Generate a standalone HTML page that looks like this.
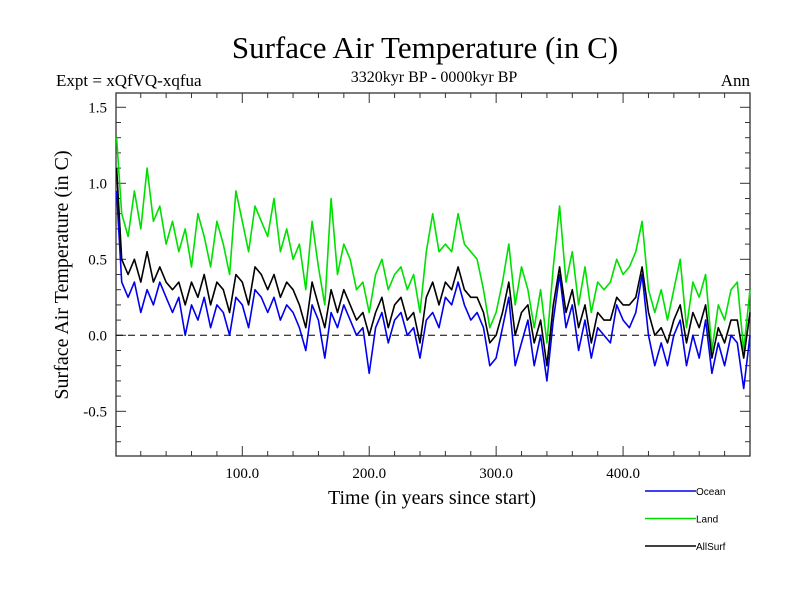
<!DOCTYPE html>
<html><head><meta charset="utf-8"><style>body{margin:0;background:#fff}svg{display:block}</style></head>
<body>
<svg id="chart" width="800" height="600" xmlns="http://www.w3.org/2000/svg" font-family="Liberation Serif, serif">
<text x="425" y="58" text-anchor="middle" font-size="31">Surface Air Temperature (in C)</text>
<text x="56" y="86" font-size="17">Expt = xQfVQ-xqfua</text>
<text x="434" y="82" text-anchor="middle" font-size="16">3320kyr BP - 0000kyr BP</text>
<text x="750" y="86" text-anchor="end" font-size="17">Ann</text>
<text x="432" y="504" text-anchor="middle" font-size="20">Time (in years since start)</text>
<text transform="translate(68,275) rotate(-90)" text-anchor="middle" font-size="20">Surface Air Temperature (in C)</text>
<g id="axes"></g>
<g id="series"></g>
<g id="legend" font-family="Liberation Sans, sans-serif" font-size="10"></g>
</svg>
<script>
const years0 = 0, yearStep = 5;
const xTicks = [100, 200, 300, 400];
const xTickLabels = ["100.0", "200.0", "300.0", "400.0"];
const yTicks = [-0.5, 0.0, 0.5, 1.0, 1.5];
const yTickLabels = ["-0.5", "0.0", "0.5", "1.0", "1.5"];
const seriesNames = ["Land", "Ocean", "AllSurf"];
const oceanValues = [0.95,0.35,0.25,0.35,0.15,0.3,0.2,0.35,0.25,0.15,0.25,0.0,0.2,0.1,0.25,0.05,0.2,0.15,0.0,0.25,0.2,0.05,0.3,0.25,0.15,0.25,0.1,0.2,0.15,0.05,-0.1,0.2,0.1,-0.15,0.15,0.05,0.2,0.1,0.0,0.05,-0.25,0.05,0.15,-0.05,0.1,0.15,0.0,0.05,-0.15,0.1,0.15,0.05,0.25,0.2,0.35,0.2,0.1,0.15,0.05,-0.2,-0.15,0.05,0.25,-0.2,-0.05,0.1,-0.2,0.0,-0.3,0.1,0.4,0.05,0.2,-0.1,0.1,-0.15,0.05,0.0,-0.05,0.2,0.1,0.05,0.15,0.4,0.0,-0.2,-0.05,-0.2,0.0,0.1,-0.2,0.0,-0.15,0.1,-0.25,-0.05,-0.2,0.0,-0.05,-0.35,0.0];
const landValues = [1.3,0.8,0.65,0.95,0.7,1.1,0.75,0.85,0.6,0.75,0.55,0.7,0.45,0.8,0.65,0.45,0.75,0.6,0.4,0.95,0.75,0.55,0.85,0.75,0.65,0.9,0.55,0.7,0.5,0.6,0.3,0.75,0.45,0.2,0.9,0.4,0.6,0.5,0.3,0.35,0.15,0.4,0.5,0.3,0.4,0.45,0.3,0.4,0.15,0.55,0.8,0.55,0.6,0.55,0.8,0.6,0.55,0.5,0.3,0.05,0.15,0.35,0.6,0.2,0.45,0.3,0.05,0.3,-0.05,0.45,0.85,0.35,0.55,0.2,0.45,0.15,0.35,0.3,0.35,0.5,0.4,0.45,0.55,0.75,0.3,0.15,0.3,0.1,0.3,0.5,0.05,0.35,0.25,0.4,-0.1,0.2,0.1,0.3,0.35,-0.1,0.3];
const allSurfValues = [1.1,0.5,0.4,0.5,0.35,0.55,0.35,0.45,0.35,0.3,0.35,0.2,0.35,0.25,0.4,0.2,0.35,0.3,0.15,0.4,0.35,0.2,0.45,0.4,0.3,0.4,0.25,0.35,0.3,0.2,0.05,0.35,0.2,0.05,0.3,0.15,0.3,0.2,0.1,0.15,0.0,0.15,0.25,0.05,0.2,0.25,0.1,0.15,-0.05,0.25,0.35,0.2,0.35,0.3,0.45,0.3,0.25,0.25,0.15,-0.05,0.0,0.15,0.35,0.0,0.15,0.2,-0.05,0.1,-0.2,0.2,0.45,0.15,0.3,0.05,0.2,-0.05,0.15,0.1,0.1,0.25,0.2,0.2,0.25,0.45,0.15,0.0,0.05,-0.05,0.1,0.2,-0.05,0.15,0.05,0.2,-0.15,0.05,-0.05,0.1,0.1,-0.15,0.15];

const NS = "http://www.w3.org/2000/svg";
const L = 116, R = 750, T = 93, B = 456;
const X0 = 0.5, X1 = 500, Y0 = -0.794, Y1 = 1.594;
const xs = v => L + (v - X0) / (X1 - X0) * (R - L);
const ys = v => B - (v - Y0) / (Y1 - Y0) * (B - T);
function mk(tag, attrs, parent) { const e = document.createElementNS(NS, tag); for (const k in attrs) e.setAttribute(k, attrs[k]); parent.appendChild(e); return e; }
const axes = document.getElementById("axes");
const frame = mk("rect", {x: L, y: T, width: R - L, height: B - T, fill: "none", stroke: "#333", "stroke-width": 1.3}, axes);


for (let v = 20; v < 500; v += 20) {
  const big = v % 100 === 0, len = big ? 10 : 5;
  const a = mk("line", {x1: xs(v), x2: xs(v), y1: B, y2: B - len, stroke: "#333"}, axes);
  
  
  const b = mk("line", {x1: xs(v), x2: xs(v), y1: T, y2: T + len, stroke: "#333"}, axes);
  
  
}
for (let i = -7; i <= 15; i++) {
  const v = i / 10, big = i % 5 === 0, len = big ? 10 : 5;
  const a = mk("line", {x1: L, x2: L + len, y1: ys(v), y2: ys(v), stroke: "#333"}, axes);
  
  
  const b = mk("line", {x1: R, x2: R - len, y1: ys(v), y2: ys(v), stroke: "#333"}, axes);
  
  
}
xTicks.forEach((v, i) => {
  const t = mk("text", {x: xs(v), y: 478, "text-anchor": "middle", "font-size": 15}, axes);
  t.textContent = xTickLabels[i];
  
  
});
yTicks.forEach((v, i) => {
  const t = mk("text", {x: 107, y: ys(v) + 5, "text-anchor": "end", "font-size": 15}, axes);
  t.textContent = yTickLabels[i];
  
  
});
const zl = mk("line", {x1: L, x2: R, y1: ys(0), y2: ys(0), stroke: "#000", "stroke-dasharray": "7,5"}, axes);



const sg = document.getElementById("series");
const colors = {Land: "#00e000", Ocean: "#0000ee", AllSurf: "#000"};
const dataMap = {Land: landValues, Ocean: oceanValues, AllSurf: allSurfValues};
seriesNames.forEach(n => {
  const vals = dataMap[n];
  const pts = vals.map((v, i) => Math.min(R, xs(Math.max(1, years0 + i * yearStep))).toFixed(1) + "," + ys(v).toFixed(1)).join(" ");
  const p = mk("polyline", {points: pts, fill: "none", stroke: colors[n], "stroke-width": 1.6, "stroke-linejoin": "round"}, sg);
  
  
});
const lg = document.getElementById("legend");
const legendOrder = ["Ocean", "Land", "AllSurf"];
legendOrder.forEach((n, i) => {
  const y = 491 + i * 27.5;
  const g = mk("g", {}, lg);
  
  
  mk("line", {x1: 645, x2: 696, y1: y, y2: y, stroke: colors[n], "stroke-width": 1.5}, g);
  const t = mk("text", {x: 696, y: y + 4}, g);
  t.textContent = n;
});
</script>
</body></html>
